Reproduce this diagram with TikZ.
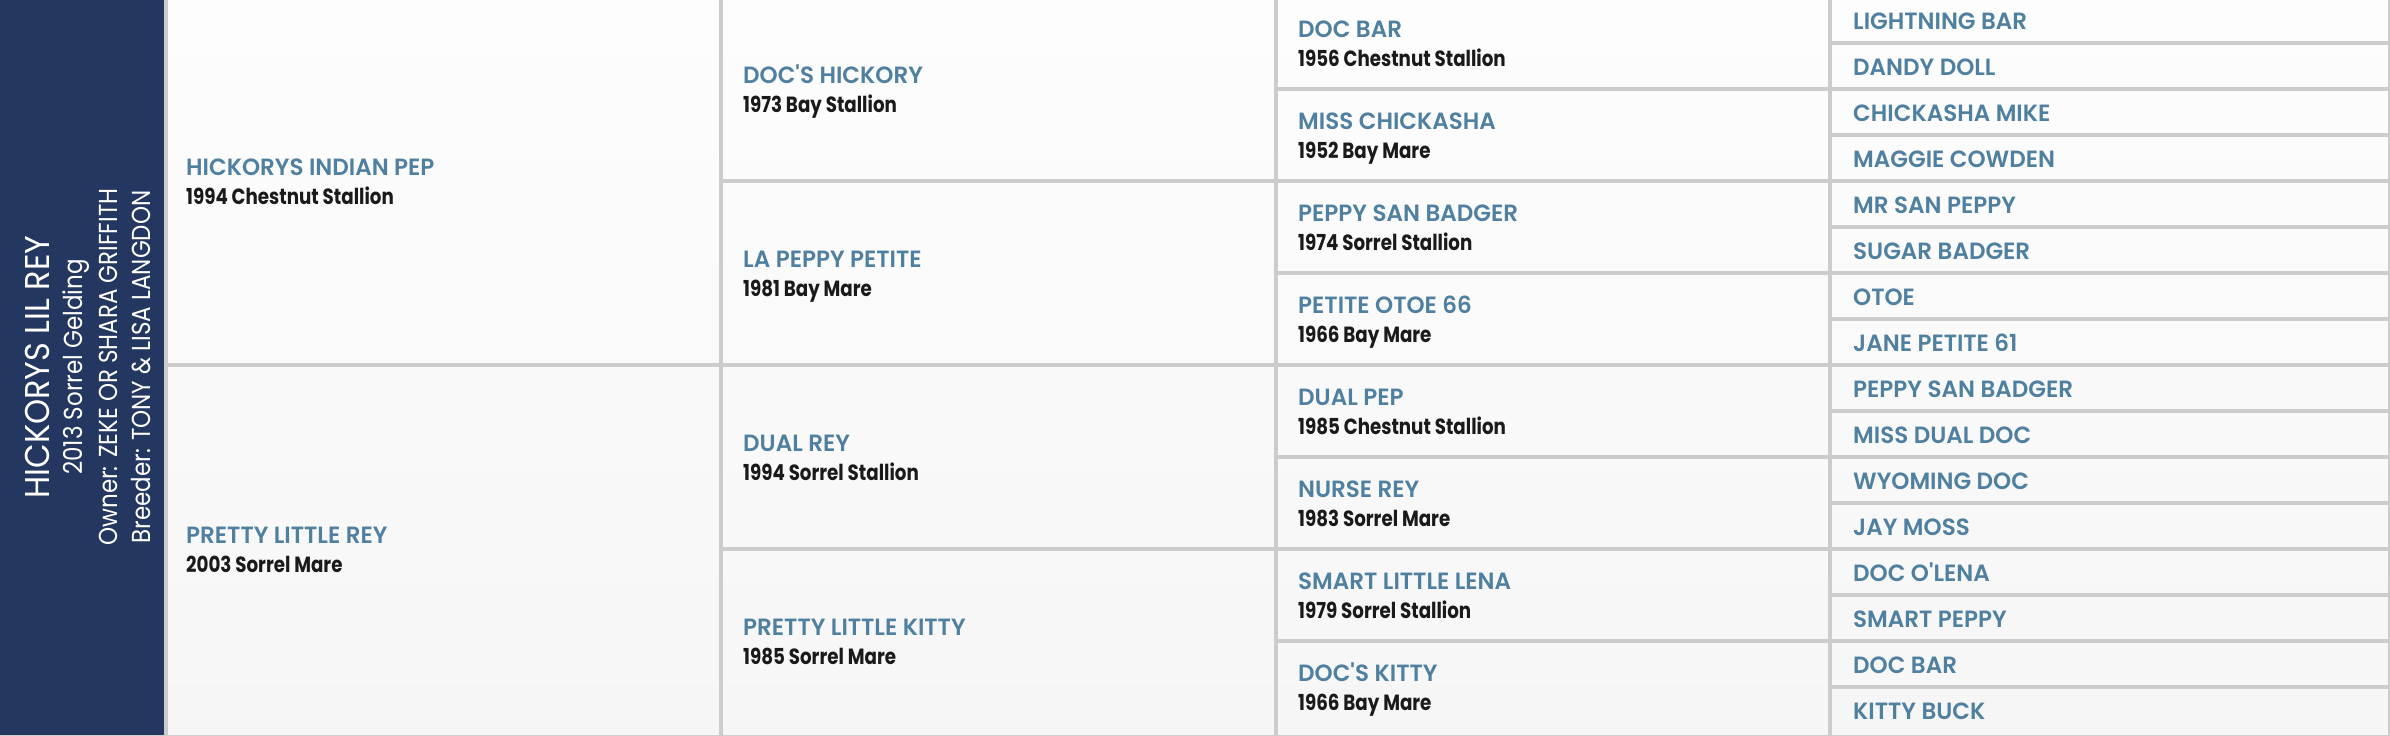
\documentclass[tikz,border=0pt]{standalone}
\usepackage{fontspec}
\newfontfamily\namefont{Poppins SemiBold}[FakeStretch=0.98]
\newfontfamily\detfont{Poppins Bold}[FakeStretch=0.83]
\newfontfamily\barfont{Poppins}[FakeStretch=0.885]
\newfontfamily\barbigfont{Poppins}[FakeStretch=0.93]
\definecolor{navy}{RGB}{36,55,96}
\definecolor{gridgray}{RGB}{204,204,204}
\definecolor{nameblue}{RGB}{80,128,160}
\definecolor{dettext}{RGB}{26,26,26}
\tikzset{
  namest/.style={inner sep=0pt, anchor=base west, text=nameblue, font=\namefont\fontsize{23.5}{23.5}\selectfont},
  detst/.style={inner sep=0pt, anchor=base west, text=dettext, font=\detfont\fontsize{22}{22}\selectfont},
  barbig/.style={inner sep=0pt, anchor=base, rotate=90, text=white, font=\barbigfont\fontsize{34.4}{34.4}\selectfont},
  barsmall/.style={inner sep=0pt, anchor=base, rotate=90, text=white, font=\barfont\fontsize{26}{26}\selectfont},
  gridline/.style={fill=gridgray, draw=none}
}
\begin{document}
\begin{tikzpicture}[x=1pt,y=-1pt]
\useasboundingbox (0,0) rectangle (2390,736);
% background
\shade[top color={rgb,255:red,253;green,253;blue,253}, bottom color={rgb,255:red,246;green,246;blue,246}] (164,0) rectangle (2390,736);
\fill[navy] (0,0) rectangle (164,736);
% vertical lines
\foreach \xa/\xb in {164/168,719/723,1274/1278,1828/1832,2388/2390}
  \fill[gridgray] (\xa,0) rectangle (\xb,736);
% horizontal lines
\fill[gridgray] (168,363) rectangle (719,366.7);
\foreach \k in {4,8,12}{
  \pgfmathsetmacro\yc{46*\k-3.2}
  \fill[gridgray] (723,\yc-1.85) rectangle (1274,\yc+1.85);
}
\foreach \k in {2,4,...,14}{
  \pgfmathsetmacro\yc{46*\k-3.2}
  \fill[gridgray] (1278,\yc-1.85) rectangle (1828,\yc+1.85);
}
\foreach \k in {1,...,15}{
  \pgfmathsetmacro\yc{46*\k-3.2}
  \fill[gridgray] (1832,\yc-1.85) rectangle (2388,\yc+1.85);
}
\fill[gridgray] (0,734.7) rectangle (2390,736);
% left bar
\node[barbig]   (horse)   at (49,367)  {HICKORYS LIL REY};
\node[barsmall] (desc)    at (82,367)  {2013 Sorrel Gelding};
\node[barsmall] (owner)   at (117,367) {Owner: ZEKE OR SHARA GRIFFITH};
\node[barsmall] (breeder) at (150,367) {Breeder: TONY \& LISA LANGDON};
% column 1
\foreach \n/\d [count=\i from 0] in {HICKORYS INDIAN PEP/1994 Chestnut Stallion, PRETTY LITTLE REY/2003 Sorrel Mare}{
  \pgfmathsetmacro\c{368*\i+181.5}
  \node[namest] (a\i) at (186,\c-6) {\n};
  \node[detst] (ad\i) at (186,\c+23) {\d};
}
% column 2
\foreach \n/\d [count=\i from 0] in {DOC\textquotesingle S HICKORY/1973 Bay Stallion, LA PEPPY PETITE/1981 Bay Mare, DUAL REY/1994 Sorrel Stallion, PRETTY LITTLE KITTY/1985 Sorrel Mare}{
  \pgfmathsetmacro\c{184*\i+89.5}
  \node[namest] (b\i) at (743,\c-6) {\n};
  \node[detst] (bd\i) at (743,\c+23) {\d};
}
% column 3
\foreach \n/\d [count=\i from 0] in {DOC BAR/1956 Chestnut Stallion, MISS CHICKASHA/1952 Bay Mare, PEPPY SAN BADGER/1974 Sorrel Stallion, PETITE OTOE 66/1966 Bay Mare, DUAL PEP/1985 Chestnut Stallion, NURSE REY/1983 Sorrel Mare, SMART LITTLE LENA/1979 Sorrel Stallion, DOC\textquotesingle S KITTY/1966 Bay Mare}{
  \pgfmathsetmacro\c{92*\i+43.5}
  \node[namest] (c\i) at (1298,\c-6) {\n};
  \node[detst] (cd\i) at (1298,\c+23) {\d};
}
% column 4
\foreach \n [count=\i from 0] in {LIGHTNING BAR, DANDY DOLL, CHICKASHA MIKE, MAGGIE COWDEN, MR SAN PEPPY, SUGAR BADGER, OTOE, JANE PETITE 61, PEPPY SAN BADGER, MISS DUAL DOC, WYOMING DOC, JAY MOSS, DOC O\textquotesingle LENA, SMART PEPPY, DOC BAR, KITTY BUCK}{
  \pgfmathsetmacro\c{46*\i+20.5}
  \node[namest] (d\i) at (1853,\c+8.5) {\n};
}
\end{tikzpicture}
\end{document}
